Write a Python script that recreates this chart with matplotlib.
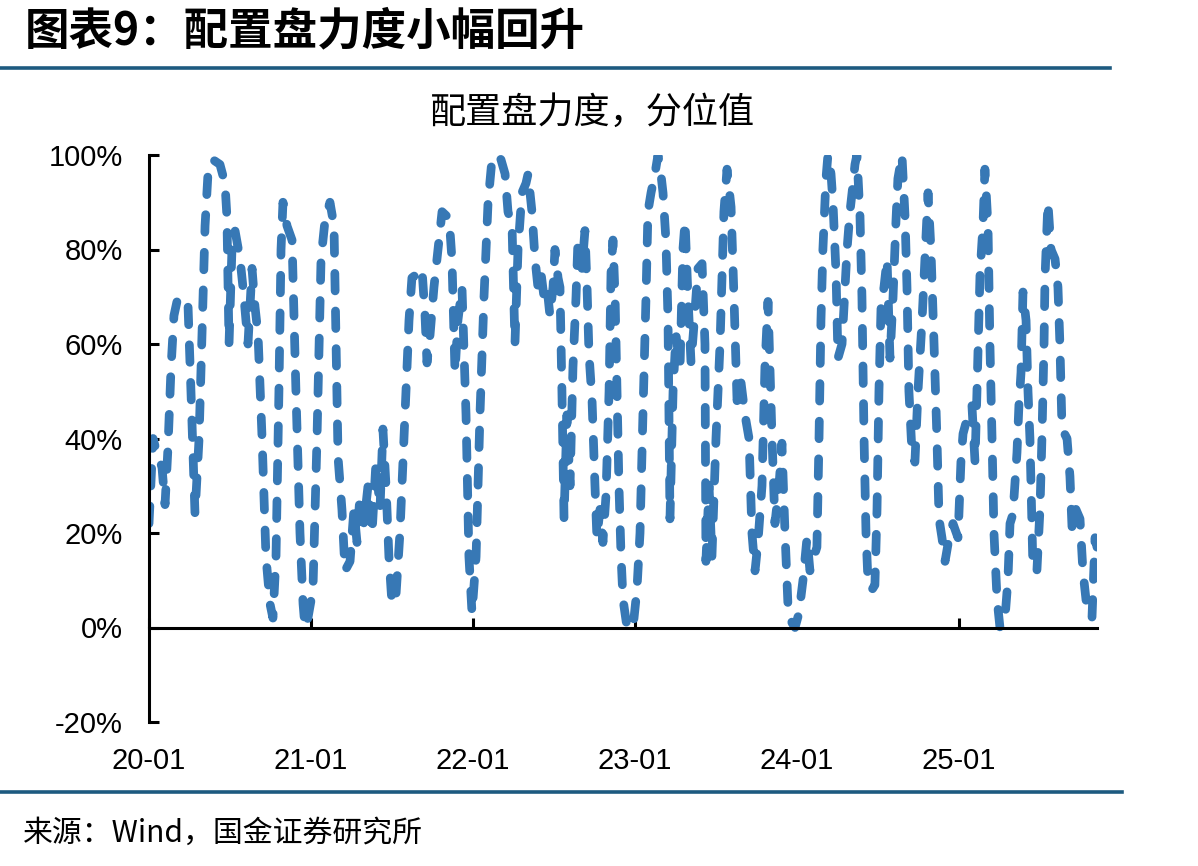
import matplotlib
matplotlib.use("Agg")
import matplotlib.pyplot as plt
from matplotlib.lines import Line2D

# ---- data (time in years since 2020-01, value in %) ----
t = [0.000, 0.025, 0.056, 0.080, 0.099, 0.117, 0.136, 0.154, 0.179, 0.204,
     0.241, 0.259, 0.284, 0.309, 0.327, 0.346, 0.364, 0.395, 0.438, 0.469,
     0.481, 0.494, 0.512, 0.531, 0.562, 0.586, 0.611, 0.636, 0.654, 0.673,
     0.698, 0.722, 0.747, 0.765, 0.784, 0.802, 0.815, 0.827, 0.852, 0.883,
     0.907, 0.932, 0.951, 0.963, 0.981, 1.012, 1.037, 1.062, 1.086, 1.117,
     1.142, 1.167, 1.191, 1.210, 1.241, 1.265, 1.284, 1.302, 1.327, 1.352,
     1.377, 1.401, 1.426, 1.444, 1.463, 1.481, 1.500, 1.525, 1.549, 1.580,
     1.605, 1.623, 1.660, 1.685, 1.704, 1.716, 1.735, 1.759, 1.784, 1.809,
     1.840, 1.858, 1.870, 1.889, 1.907, 1.932, 1.957, 1.975, 1.994, 2.019,
     2.043, 2.068, 2.093, 2.117, 2.154, 2.173, 2.198, 2.216, 2.241, 2.259,
     2.278, 2.302, 2.327, 2.340, 2.364, 2.383, 2.401, 2.420, 2.438, 2.457,
     2.475, 2.494, 2.506, 2.525, 2.537, 2.549, 2.562, 2.580, 2.599, 2.617,
     2.636, 2.648, 2.673, 2.691, 2.704, 2.716, 2.735, 2.753, 2.765, 2.784,
     2.802, 2.821, 2.840, 2.852, 2.864, 2.877, 2.889, 2.901, 2.914, 2.926,
     2.951, 2.988, 3.012, 3.031, 3.049, 3.068, 3.080, 3.099, 3.123, 3.142,
     3.160, 3.173, 3.191, 3.204, 3.216, 3.235, 3.253, 3.278, 3.296, 3.309,
     3.327, 3.346, 3.364, 3.389, 3.414, 3.432, 3.438, 3.457, 3.475, 3.500,
     3.525, 3.549, 3.568, 3.593, 3.611, 3.630, 3.654, 3.679, 3.704, 3.722,
     3.741, 3.759, 3.784, 3.802, 3.821, 3.846, 3.864, 3.889, 3.907, 3.926,
     3.944, 3.969, 3.988, 4.012, 4.037, 4.062, 4.080, 4.105, 4.123, 4.136,
     4.148, 4.160, 4.179, 4.191, 4.210, 4.222, 4.241, 4.253, 4.278, 4.309,
     4.327, 4.340, 4.358, 4.370, 4.389, 4.401, 4.414, 4.426, 4.438, 4.463,
     4.481, 4.494, 4.506, 4.519, 4.537, 4.556, 4.574, 4.593, 4.611, 4.623,
     4.648, 4.667, 4.679, 4.691, 4.710, 4.728, 4.747, 4.772, 4.790, 4.809,
     4.827, 4.846, 4.864, 4.877, 4.895, 4.914, 4.944, 4.963, 4.994, 5.012,
     5.025, 5.056, 5.080, 5.099, 5.111, 5.130, 5.148, 5.160, 5.179, 5.191,
     5.204, 5.216, 5.235, 5.253, 5.284, 5.302, 5.315, 5.333, 5.358, 5.370,
     5.383, 5.395, 5.414, 5.426, 5.438, 5.457, 5.481, 5.500, 5.512, 5.525,
     5.531, 5.549, 5.568, 5.593, 5.611, 5.623, 5.636, 5.667, 5.685, 5.698,
     5.722, 5.747, 5.765, 5.790, 5.821, 5.840, 5.852]

values = [22, 40, 36, 34, 26, 38, 55, 66, 70, 69,
          68, 50, 24, 40, 62, 85, 96, 99, 98, 94,
          87, 60, 80, 84, 78, 70, 60, 76, 68, 62,
          40, 15, 5, 2, 15, 50, 80, 90, 85, 82,
          50, 20, 5, 0, 2, 8, 40, 78, 86, 90,
          85, 36, 25, 12, 14, 25, 18, 28, 22, 30,
          20, 35, 25, 42, 30, 15, 5, 7, 20, 45,
          65, 74, 75, 76, 66, 56, 62, 72, 80, 88,
          87, 84, 78, 54, 65, 72, 45, 15, 3, 15,
          45, 70, 90, 99, 100, 99, 96, 88, 85, 60,
          80, 92, 94, 96, 88, 78, 72, 75, 70, 72,
          66, 72, 80, 74, 72, 50, 23, 45, 30, 55,
          70, 82, 76, 84, 72, 58, 48, 30, 19, 25,
          18, 28, 50, 75, 82, 70, 50, 30, 15, 6,
          0, 0, 8, 20, 45, 70, 88, 92, 96, 100,
          96, 92, 82, 65, 23, 50, 62, 55, 80, 86,
          70, 56, 64, 76, 77, 60, 14, 30, 15, 40,
          60, 88, 97, 89, 70, 48, 52, 45, 40, 20,
          12, 18, 30, 55, 69, 40, 22, 30, 39, 20,
          5, 1, 0, 3, 10, 19, 12, 15, 17, 40,
          65, 80, 95, 100, 96, 90, 75, 57, 60, 80,
          88, 92, 98, 100, 87, 70, 40, 20, 10, 8,
          9, 25, 50, 68, 72, 78, 57, 70, 86, 95,
          100, 87, 72, 50, 37, 35, 50, 65, 78, 92,
          80, 60, 40, 23, 19, 14, 20, 22, 19, 35,
          41, 45, 47, 35, 50, 75, 85, 97, 85, 60,
          40, 20, 6, 0, 2, 10, 22, 24, 37, 47,
          54, 71, 65, 50, 40, 12, 12, 25, 40, 60,
          74, 90, 80, 78, 72, 60, 42, 40, 32, 21,
          25, 23, 12, 4, 2, 19, 17]

year_ticks = [0, 1, 2, 3, 4, 5]
year_labels = ["20-01", "21-01", "22-01", "23-01", "24-01", "25-01"]
y_ticks = [-20, 0, 20, 40, 60, 80, 100]
y_labels = ["-20%", "0%", "20%", "40%", "60%", "80%", "100%"]

title = "图表9：配置盘力度小幅回升"
subtitle = "配置盘力度，分位值"
source = "来源：Wind，国金证券研究所"

# ---- figure ----
W, H = 1198, 866
fig = plt.figure(figsize=(W / 100, H / 100), dpi=100)
cjk = ["Noto Sans CJK SC", "DejaVu Sans"]
lat = ["Liberation Sans", "DejaVu Sans"]

ax = fig.add_axes([149 / W, 1 - 722 / H, (1097 - 149) / W, (722 - 155) / H])
line_color = "#3778b5"
ax.plot(t, values, color=line_color, lw=6.3, dashes=(2.0, 2.3),
        dash_capstyle="round", solid_capstyle="round", solid_joinstyle="round")

ax.set_xlim(0, 5.852)
ax.set_ylim(-20, 100)

for s in ["top", "right"]:
    ax.spines[s].set_visible(False)
ax.spines["bottom"].set_position(("data", 0))
ax.spines["bottom"].set_linewidth(2.2)
ax.spines["left"].set_linewidth(2.2)

ax.set_yticks(y_ticks)
ax.set_yticklabels(y_labels, fontfamily=lat, fontsize=21)
ax.set_xticks(year_ticks)
ax.set_xticklabels(year_labels, fontfamily=lat, fontsize=21)
ax.tick_params(axis="y", direction="in", length=7, width=2.2, pad=19)
ax.tick_params(axis="x", direction="in", length=7, width=2.2, pad=86)

# ---- texts and rules ----
fig.text(25 / W, 1 - 31 / H, title, fontfamily=cjk, fontsize=32,
         fontweight="bold", fontstyle="italic", va="center", ha="left")
fig.text(592 / W, 1 - 113 / H, subtitle, fontfamily=cjk, fontsize=26,
         va="center", ha="center")
fig.text(23 / W, 1 - 833 / H, source, fontfamily=cjk, fontsize=21.5,
         va="center", ha="left")

rule_color = "#1d5a80"
fig.add_artist(Line2D([0, 1110 / W], [1 - 68 / H, 1 - 68 / H],
                      transform=fig.transFigure, color=rule_color, lw=2.6))
fig.add_artist(Line2D([0, 1122 / W], [1 - 792 / H, 1 - 792 / H],
                      transform=fig.transFigure, color=rule_color, lw=2.6))

fig.savefig("out.png", dpi=100)
